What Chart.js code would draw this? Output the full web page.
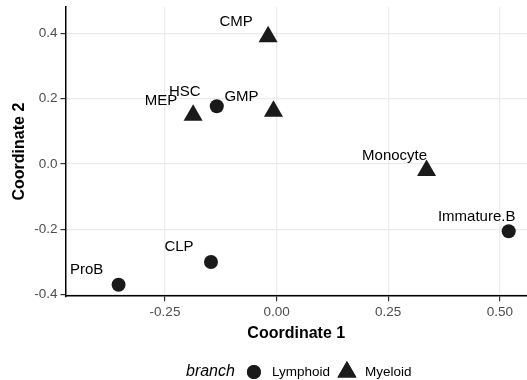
<!DOCTYPE html>
<html>
<head>
<meta charset="utf-8">
<script src="https://cdn.jsdelivr.net/npm/chart.js@4/dist/chart.umd.min.js"></script>
<style>
  html, body { margin: 0; padding: 0; background: #fff; }
  #wrap { width: 527px; height: 380px; }
</style>
</head>
<body>
<div id="wrap"><canvas id="myChart" width="527" height="380"></canvas></div>
<script>
// cell types and their MDS coordinates
var cellTypes = ['HSC', 'CMP', 'MEP', 'GMP', 'CLP', 'ProB', 'Monocyte', 'Immature.B']
var coord1 = [-0.134, -0.019, -0.187, -0.007, -0.147, -0.354, 0.336, 0.520]
var coord2 = [0.177, 0.390, 0.149, 0.162, -0.300, -0.370, -0.020, -0.206]
var branch = ['Lymphoid', 'Myeloid', 'Myeloid', 'Myeloid', 'Lymphoid', 'Lymphoid', 'Myeloid', 'Lymphoid']
var branches = ['Lymphoid', 'Myeloid']
var xTicks = [-0.25, 0, 0.25, 0.5]
var yTicks = [-0.4, -0.2, 0, 0.2, 0.4]

var ink = '#1A1A1A'
var fontFam = '"Liberation Sans", Arial, sans-serif'

function buildSet(b) {
  var pts = []
  for (var i = 0; i < cellTypes.length; i++) {
    if (branch[i] == b) pts.push({x: coord1[i], y: coord2[i], name: cellTypes[i]})
  }
  var tri = b == 'Myeloid'
  return {
    label: b,
    data: pts,
    pointStyle: tri ? 'triangle' : 'circle',
    pointRadius: tri ? 11 : 7,
    pointHoverRadius: tri ? 11 : 7,
    backgroundColor: ink,
    borderColor: ink,
    borderWidth: 0
  }
}

// point labels, drawn up-left of each mark
var labelPlugin = {
  id: 'pointLabels',
  afterDatasetsDraw: function(chart) {
    var c = chart.ctx
    c.save()
    c.font = '15px ' + fontFam
    c.fillStyle = '#000'
    c.textAlign = 'center'
    c.textBaseline = 'alphabetic'
    chart.data.datasets.forEach(function(ds, di) {
      var meta = chart.getDatasetMeta(di)
      meta.data.forEach(function(el, i) {
        c.fillText(ds.data[i].name, el.x - 32, el.y - 10.5)
      })
    })
    c.restore()
  }
}

// ggplot style legend at the bottom: "branch" + keys, centred under the panel
var legendPlugin = {
  id: 'bottomLegend',
  afterDraw: function(chart) {
    var c = chart.ctx
    var y = 372
    var sets = chart.data.datasets
    c.save()
    c.textBaseline = 'middle'
    c.font = 'italic 16px ' + fontFam
    var titleW = c.measureText('branch').width
    c.font = '13.5px ' + fontFam
    var total = titleW
    sets.forEach(function(ds) { total += 19 + 18 + c.measureText(ds.label).width })
    var x = (chart.chartArea.left + chart.chartArea.right) / 2 + 3.5 - total / 2
    c.fillStyle = '#000'
    c.font = 'italic 16px ' + fontFam
    c.fillText('branch', x, y)
    x += titleW + 19
    c.font = '13.5px ' + fontFam
    sets.forEach(function(ds) {
      c.fillStyle = ink
      c.beginPath()
      Chart.helpers.drawPoint(c, {pointStyle: ds.pointStyle, radius: ds.pointRadius, borderWidth: 0}, x, y)
      c.fill()
      c.fillStyle = '#000'
      c.fillText(ds.label, x + 18, y)
      x += 18 + c.measureText(ds.label).width + 17
    })
    c.restore()
  }
}

function noPad(s) {
  s.paddingLeft = 0
  s.paddingRight = 0
  s.paddingTop = 0
  s.paddingBottom = 0
}

var ctx = document.getElementById('myChart').getContext('2d')
var myChart = new Chart(ctx, {
  type: 'scatter',
  data: {
    datasets: branches.map(buildSet)
  },
  options: {
    responsive: false,
    animation: false,
    layout: {autoPadding: false, padding: {top: 7, right: 0, bottom: 38, left: 10}},
    plugins: {
      legend: {display: false},
      tooltip: {enabled: false}
    },
    scales: {
      x: {
        type: 'linear',
        min: -0.473,
        max: 0.561,
        afterBuildTicks: function(ax) { ax.ticks = xTicks.map(function(v) { return {value: v} }) },
        afterFit: noPad,
        ticks: {
          color: '#4D4D4D',
          font: {size: 13.5, family: fontFam},
          padding: 3,
          maxRotation: 0,
          callback: function(v) { return v.toFixed(2) }
        },
        grid: {color: '#EBEBEB', lineWidth: 1.2, tickColor: '#333', tickLength: 5},
        border: {color: '#000', width: 1.5},
        title: {display: true, text: 'Coordinate 1', color: '#000', font: {size: 16, weight: 'bold', family: fontFam, lineHeight: 1.1}, padding: {top: 1, bottom: 0}}
      },
      y: {
        type: 'linear',
        min: -0.405,
        max: 0.481,
        afterBuildTicks: function(ax) { ax.ticks = yTicks.map(function(v) { return {value: v} }) },
        afterFit: noPad,
        ticks: {
          color: '#4D4D4D',
          font: {size: 13.5, family: fontFam},
          padding: 3,
          callback: function(v) { return v.toFixed(1) }
        },
        grid: {color: '#EBEBEB', lineWidth: 1.2, tickColor: '#333', tickLength: 5},
        border: {color: '#000', width: 1.5},
        title: {display: true, text: 'Coordinate 2', color: '#000', font: {size: 16, weight: 'bold', family: fontFam}, padding: {top: 0, bottom: 2}}
      }
    }
  },
  plugins: [labelPlugin, legendPlugin]
})
</script>
</body>
</html>
